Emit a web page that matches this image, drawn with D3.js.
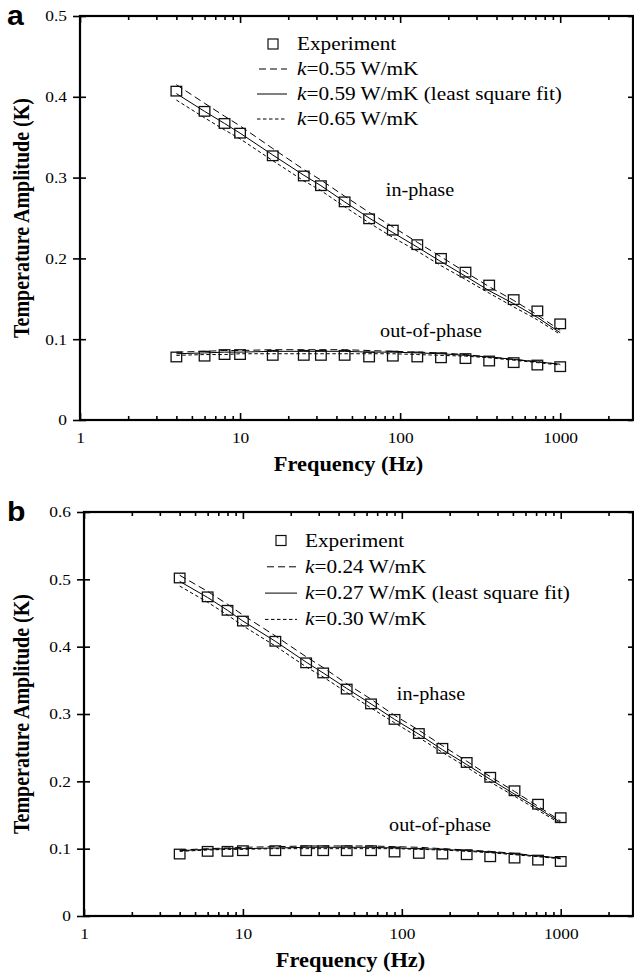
<!DOCTYPE html>
<html>
<head>
<meta charset="utf-8">
<script src="https://cdn.jsdelivr.net/npm/d3@7"></script>
<style>
  body { margin: 0; background: #fff; }
  svg { display: block; }
</style>
</head>
<body>
<div class="chart"></div>
<script>
const FRAME_WIDTH = 634;
const FRAME_HEIGHT = 978;
const SX = 1.12;   // the scanned figure is a little wider than tall
const SERIF = "'Liberation Serif', 'Times New Roman', serif";
const SANS = "'Liberation Sans', Arial, sans-serif";

// frequencies (Hz) shared by every series
const FREQ = [4, 6, 8, 10, 16, 25, 32, 45, 64, 90, 128, 180, 256, 360, 512, 720, 1000];

const X_MAJOR = [1, 10, 100, 1000];
const X_MINOR = [2, 3, 4, 5, 6, 7, 8, 9, 20, 30, 40, 50, 60, 70, 80, 90,
                 200, 300, 400, 500, 600, 700, 800, 900, 2000];
const A_Y_TICKS = [0, 0.1, 0.2, 0.3, 0.4, 0.5];
const B_Y_TICKS = [0, 0.1, 0.2, 0.3, 0.4, 0.5, 0.6];

// panel a
const A_IN_EXP  = [0.407, 0.382, 0.367, 0.355, 0.327, 0.302, 0.290, 0.270, 0.249, 0.235, 0.217, 0.200, 0.183, 0.167, 0.149, 0.135, 0.119];
const A_IN_K055 = [0.415, 0.392, 0.376, 0.364, 0.336, 0.310, 0.297, 0.277, 0.257, 0.239, 0.220, 0.202, 0.183, 0.165, 0.148, 0.130, 0.111];
const A_IN_K059 = [0.404, 0.382, 0.367, 0.355, 0.328, 0.303, 0.290, 0.270, 0.250, 0.232, 0.214, 0.196, 0.178, 0.160, 0.144, 0.127, 0.108];
const A_IN_K065 = [0.396, 0.374, 0.359, 0.348, 0.321, 0.296, 0.284, 0.264, 0.244, 0.226, 0.209, 0.191, 0.174, 0.157, 0.140, 0.124, 0.106];
const A_OUT_EXP  = [0.078, 0.079, 0.081, 0.081, 0.080, 0.080, 0.080, 0.080, 0.078, 0.079, 0.078, 0.077, 0.076, 0.073, 0.071, 0.068, 0.066];
const A_OUT_K055 = [0.084, 0.085, 0.086, 0.086, 0.087, 0.087, 0.087, 0.087, 0.086, 0.085, 0.084, 0.083, 0.081, 0.078, 0.075, 0.072, 0.069];
const A_OUT_K059 = [0.082, 0.083, 0.084, 0.084, 0.085, 0.085, 0.085, 0.085, 0.084, 0.084, 0.083, 0.082, 0.080, 0.078, 0.075, 0.072, 0.069];
const A_OUT_K065 = [0.080, 0.081, 0.081, 0.082, 0.082, 0.082, 0.082, 0.082, 0.082, 0.082, 0.081, 0.080, 0.079, 0.077, 0.074, 0.071, 0.068];
const A_LEGEND = ["=0.55 W/mK", "=0.59 W/mK (least square fit)", "=0.65 W/mK"];

// panel b
const B_IN_EXP  = [0.502, 0.474, 0.454, 0.438, 0.408, 0.376, 0.361, 0.337, 0.315, 0.292, 0.271, 0.249, 0.228, 0.206, 0.186, 0.166, 0.146];
const B_IN_K024 = [0.506, 0.482, 0.463, 0.447, 0.416, 0.385, 0.369, 0.345, 0.322, 0.298, 0.276, 0.253, 0.230, 0.207, 0.185, 0.163, 0.141];
const B_IN_K027 = [0.497, 0.473, 0.454, 0.438, 0.408, 0.377, 0.361, 0.338, 0.315, 0.292, 0.270, 0.247, 0.225, 0.203, 0.181, 0.160, 0.139];
const B_IN_K030 = [0.490, 0.466, 0.447, 0.431, 0.401, 0.370, 0.355, 0.332, 0.309, 0.287, 0.265, 0.243, 0.221, 0.199, 0.178, 0.157, 0.137];
const B_OUT_EXP  = [0.092, 0.096, 0.096, 0.097, 0.097, 0.097, 0.097, 0.097, 0.097, 0.095, 0.093, 0.092, 0.091, 0.088, 0.086, 0.083, 0.081];
const B_OUT_K024 = [0.098, 0.100, 0.101, 0.102, 0.103, 0.104, 0.104, 0.104, 0.104, 0.103, 0.102, 0.100, 0.098, 0.096, 0.093, 0.089, 0.086];
const B_OUT_K027 = [0.097, 0.099, 0.100, 0.100, 0.101, 0.102, 0.102, 0.102, 0.102, 0.101, 0.100, 0.099, 0.097, 0.095, 0.092, 0.089, 0.086];
const B_OUT_K030 = [0.096, 0.098, 0.099, 0.099, 0.100, 0.100, 0.100, 0.100, 0.100, 0.100, 0.099, 0.098, 0.096, 0.094, 0.091, 0.088, 0.085];
const B_LEGEND = ["=0.24 W/mK", "=0.27 W/mK (least square fit)", "=0.30 W/mK"];

// line styles for the three k values (low k, best fit, high k)
const STYLES = [
  {dash: "7,4", width: 1},
  {dash: null, width: 1},
  {dash: "3.5,2.5", width: 1}
];

const SVG = d3.select(".chart")
  .append("svg")
  .attr("width", FRAME_WIDTH)
  .attr("height", FRAME_HEIGHT);

// text placed at (x, y) and widened like the scan
function addText(g, x, y, str, size, opts) {
  opts = opts || {};
  return g.append("text")
    .attr("transform", "translate(" + x + "," + y + ") scale(" + SX + ",1)" + (opts.rotate ? " rotate(-90)" : ""))
    .attr("text-anchor", opts.anchor || "start")
    .attr("font-family", opts.family || SERIF)
    .attr("font-weight", opts.bold ? "bold" : "normal")
    .attr("font-size", size)
    .attr("fill", "#000")
    .text(str);
}

function drawPanel(p) {
  const g = SVG.append("g");

  const X_SCALE = d3.scaleLog().domain([1, 2850]).range([p.left, p.right]);
  const Y_SCALE = d3.scaleLinear().domain([0, p.yMax]).range([p.bottom, p.top]);

  // bottom axis with labels
  const bottom = g.append("g")
    .attr("transform", "translate(0," + p.bottom + ")")
    .call(d3.axisBottom(X_SCALE).tickValues(X_MAJOR).tickSize(-7).tickPadding(12)
      .tickFormat(d3.format("d")));
  bottom.selectAll("text")
    .attr("font-family", SERIF).attr("font-size", 15.5)
    .attr("transform", "scale(" + SX + ",1)");
  g.append("g")
    .attr("transform", "translate(0," + p.bottom + ")")
    .call(d3.axisBottom(X_SCALE).tickValues(X_MINOR).tickSize(-4).tickFormat(""));

  // top axis
  g.append("g")
    .attr("transform", "translate(0," + p.top + ")")
    .call(d3.axisTop(X_SCALE).tickValues(X_MAJOR).tickSize(-7).tickFormat(""));
  g.append("g")
    .attr("transform", "translate(0," + p.top + ")")
    .call(d3.axisTop(X_SCALE).tickValues(X_MINOR).tickSize(-4).tickFormat(""));

  // left axis: ticks cross the frame
  const left = g.append("g")
    .attr("transform", "translate(" + p.left + ",0)")
    .call(d3.axisLeft(Y_SCALE).tickValues(p.yTicks).tickSize(7).tickPadding(6)
      .tickFormat(d => d === 0 ? "0" : d3.format(".1f")(d)));
  left.selectAll("text")
    .attr("font-family", SERIF).attr("font-size", 15.5)
    .attr("x", 0)
    .attr("transform", "translate(-13,0) scale(" + SX + ",1)");
  g.append("g")
    .attr("transform", "translate(" + p.left + ",0)")
    .call(d3.axisLeft(Y_SCALE).tickValues(p.yTicks).tickSize(-6).tickFormat(""));

  // right axis
  g.append("g")
    .attr("transform", "translate(" + p.right + ",0)")
    .call(d3.axisRight(Y_SCALE).tickValues(p.yTicks).tickSize(-5).tickFormat(""));

  g.selectAll(".domain").remove();
  g.selectAll(".tick line").attr("stroke", "#000").attr("stroke-width", 1.6);

  g.append("rect")
    .attr("x", p.left).attr("y", p.top)
    .attr("width", p.right - p.left).attr("height", p.bottom - p.top)
    .attr("fill", "none").attr("stroke", "#000").attr("stroke-width", 2.2);

  // model curves
  const line = d3.line()
    .x((d, i) => X_SCALE(FREQ[i]))
    .y(d => Y_SCALE(d));

  [p.inLines, p.outLines].forEach(set => {
    set.forEach((series, j) => {
      g.append("path")
        .datum(series)
        .attr("d", line)
        .attr("fill", "none")
        .attr("stroke", "#000")
        .attr("stroke-width", STYLES[j].width)
        .attr("stroke-dasharray", STYLES[j].dash);
    });
  });

  // experiment squares
  [p.inExp, p.outExp].forEach(series => {
    g.selectAll(null)
      .data(series)
      .enter()
      .append("rect")
        .attr("x", (d, i) => X_SCALE(FREQ[i]) - 5.3)
        .attr("y", d => Y_SCALE(d) - 4.8)
        .attr("width", 10.6)
        .attr("height", 9.6)
        .attr("fill", "none")
        .attr("stroke", "#111")
        .attr("stroke-width", 1.3);
  });

  // curve labels
  addText(g, p.inLabel[0], p.inLabel[1], "in-phase", 18, {anchor: "middle"});
  addText(g, p.outLabel[0], p.outLabel[1], "out-of-phase", 18, {anchor: "middle"});

  // legend
  const L = p.legend;
  g.append("rect")
    .attr("x", L.sq - 5).attr("y", L.y0 - 11)
    .attr("width", 10).attr("height", 10)
    .attr("fill", "none").attr("stroke", "#111").attr("stroke-width", 1.2);
  addText(g, L.tx, L.y0, "Experiment", 19);
  p.legendText.forEach((str, j) => {
    const yb = L.y0 + L.gap * (j + 1);
    g.append("line")
      .attr("x1", L.x1).attr("x2", L.x2)
      .attr("y1", yb - 6).attr("y2", yb - 6)
      .attr("stroke", "#000")
      .attr("stroke-width", STYLES[j].width)
      .attr("stroke-dasharray", STYLES[j].dash)
      .attr("stroke-dashoffset", j === 0 ? -2 : 0);
    const t = addText(g, L.tx, yb, "", 19);
    t.append("tspan").attr("font-style", "italic").text("k");
    t.append("tspan").text(str);
  });

  // axis titles and panel letter
  addText(g, (p.left + p.right) / 2 - 8, p.bottom + 51, "Frequency (Hz)", 20, {anchor: "middle", bold: true});
  addText(g, 29, (p.top + p.bottom) / 2, "Temperature Amplitude (K)", 20, {anchor: "middle", bold: true, rotate: true});
  addText(g, 7, p.top + 9, p.letter, 27, {bold: true, family: SANS});
}

drawPanel({
  letter: "a",
  left: 80, right: 633, top: 16, bottom: 420,
  yMax: 0.5, yTicks: A_Y_TICKS,
  inExp: A_IN_EXP, inLines: [A_IN_K055, A_IN_K059, A_IN_K065],
  outExp: A_OUT_EXP, outLines: [A_OUT_K055, A_OUT_K059, A_OUT_K065],
  inLabel: [420, 196], outLabel: [431, 337],
  legend: {sq: 273, tx: 297, x1: 257, x2: 287, y0: 50, gap: 25},
  legendText: A_LEGEND
});

drawPanel({
  letter: "b",
  left: 84, right: 633, top: 512, bottom: 916,
  yMax: 0.6, yTicks: B_Y_TICKS,
  inExp: B_IN_EXP, inLines: [B_IN_K024, B_IN_K027, B_IN_K030],
  outExp: B_OUT_EXP, outLines: [B_OUT_K024, B_OUT_K027, B_OUT_K030],
  inLabel: [431, 700], outLabel: [440, 831],
  legend: {sq: 281, tx: 305, x1: 265, x2: 297, y0: 546.5, gap: 26.3},
  legendText: B_LEGEND
});
</script>
</body>
</html>
